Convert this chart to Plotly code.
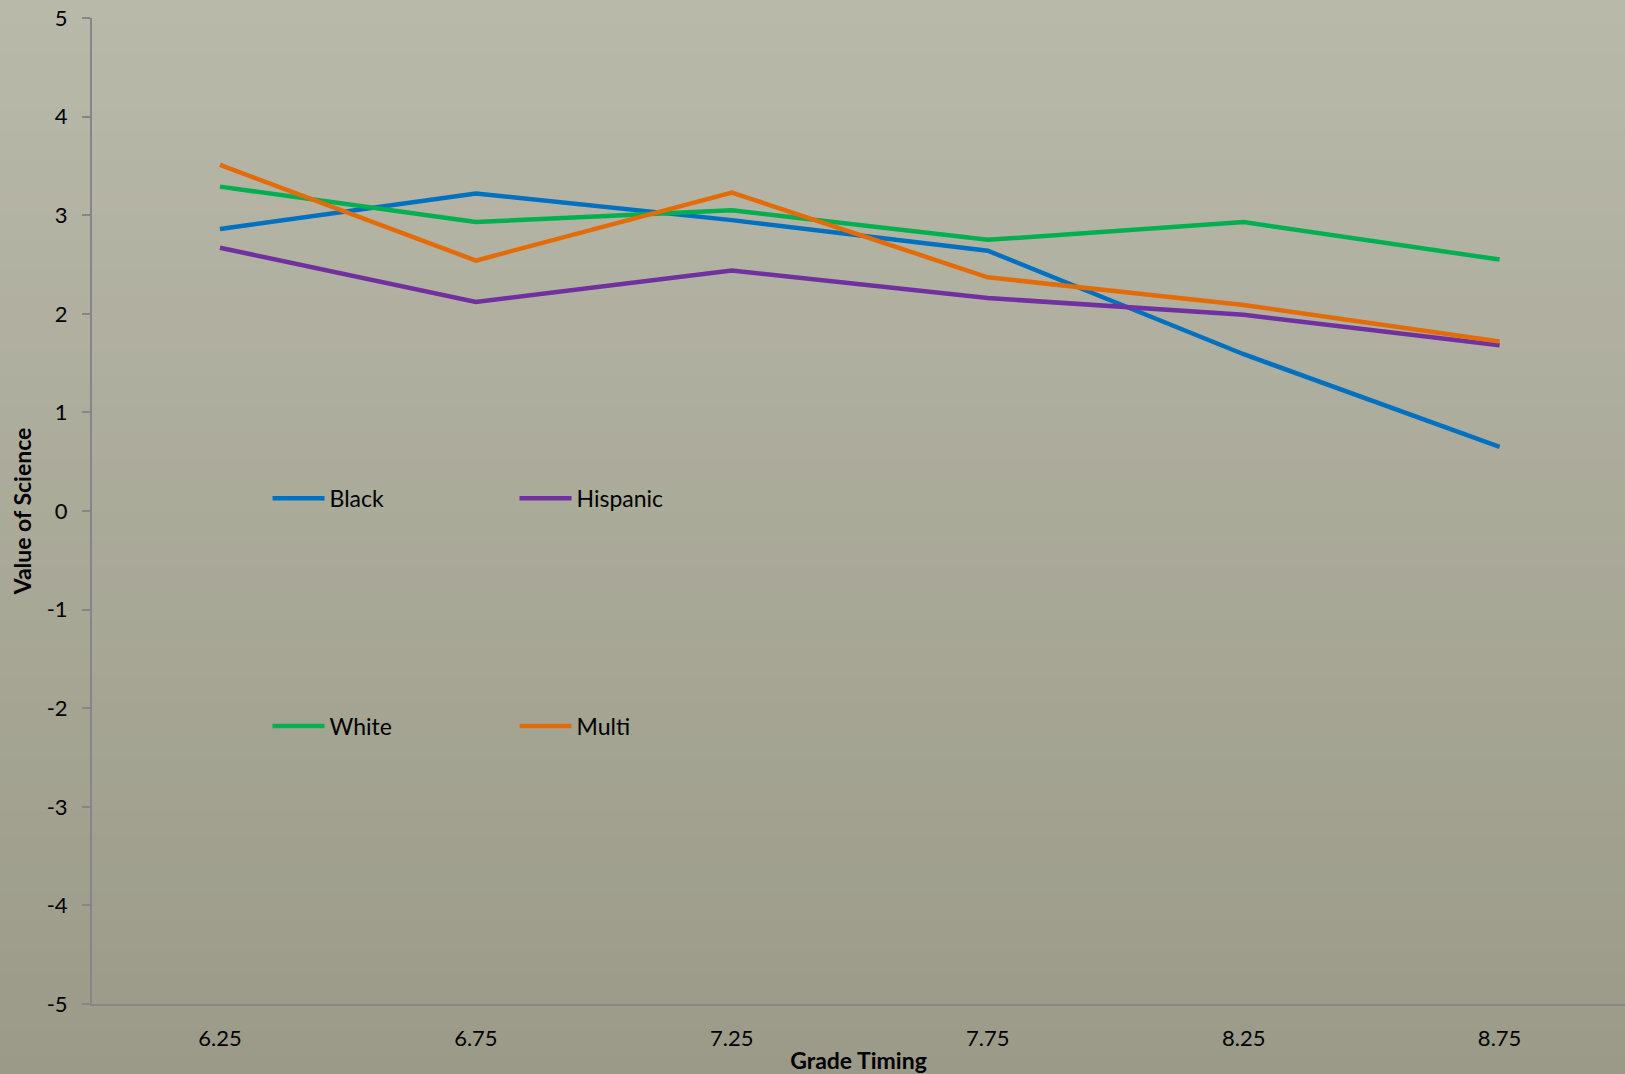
import plotly.graph_objects as go

grades = ["6.25", "6.75", "7.25", "7.75", "8.25", "8.75"]
black = [2.86, 3.22, 2.95, 2.64, 1.59, 0.65]
hispanic = [2.67, 2.12, 2.44, 2.16, 1.99, 1.68]
white = [3.29, 2.93, 3.05, 2.75, 2.93, 2.55]
multi = [3.51, 2.54, 3.23, 2.37, 2.09, 1.72]
y_ticks = [-5, -4, -3, -2, -1, 0, 1, 2, 3, 4, 5]
y_labels = ["-5", "-4", "-3", "-2", "-1", "0", "1", "2", "3", "4", "5"]

FONT = "Lato"
fig = go.Figure()
series = [
    ("Black", black, "#0070C0", "legend"),
    ("Hispanic", hispanic, "#7030A0", "legend"),
    ("White", white, "#00B050", "legend2"),
    ("Multi", multi, "#E36C09", "legend2"),
]
for name, vals, col, lg in series:
    fig.add_trace(go.Scatter(x=grades, y=vals, name=name, mode="lines",
                             line=dict(color=col, width=4.5), legend=lg))

# background gradient
shapes = []
n = 40
top = (185, 185, 170)
bot = (155, 154, 136)
for i in range(n):
    t = i / (n - 1)
    c = tuple(round(top[k] + (bot[k] - top[k]) * t) for k in range(3))
    shapes.append(dict(type="rect", xref="paper", yref="paper", layer="below",
                       x0=-0.1, x1=1.1, y0=1.02 - (i + 1) * 1.1 / n, y1=1.02 - i * 1.1 / n + 0.001,
                       fillcolor="rgb(%d,%d,%d)" % c, line=dict(width=0)))

legend_common = dict(orientation="h", xanchor="left", yanchor="middle",
                     bgcolor="rgba(0,0,0,0)", font=dict(family=FONT, size=23, color="#000000"),
                     entrywidth=180, entrywidthmode="pixels", itemwidth=52, tracegroupgap=0)

fig.update_layout(
    width=1625, height=1074,
    margin=dict(l=92, r=0, t=18, b=70),
    paper_bgcolor="rgb(170,170,153)",
    plot_bgcolor="rgba(0,0,0,0)",
    shapes=shapes,
    showlegend=True,
    legend=dict(x=0.1145, y=0.513, **legend_common),
    legend2=dict(x=0.1145, y=0.282, **legend_common),
    xaxis=dict(type="category", range=[-0.5, 5.49], showgrid=False, zeroline=False,
               showline=True, linecolor="#86868a", linewidth=2, ticks="",
               ticklabelstandoff=14,
               tickfont=dict(family=FONT, size=22, color="#000000"),
               title=dict(text="<b>Grade Timing</b>", font=dict(family=FONT, size=23, color="#000000"), standoff=3)),
    yaxis=dict(range=[-5, 5], tickvals=y_ticks, ticktext=y_labels, showgrid=False, zeroline=False,
               showline=True, linecolor="#86868a", linewidth=2, ticks="outside",
               ticklen=8, tickcolor="#86868a", tickwidth=2, ticklabelstandoff=10,
               tickfont=dict(family=FONT, size=22, color="#000000"),
               title=dict(text="<b>Value of Science</b>", font=dict(family=FONT, size=23, color="#000000"), standoff=9)),
)
fig.write_html("out.html", config={"displayModeBar": False},
               post_script="document.body.style.margin='0';document.body.style.overflow='hidden';")
